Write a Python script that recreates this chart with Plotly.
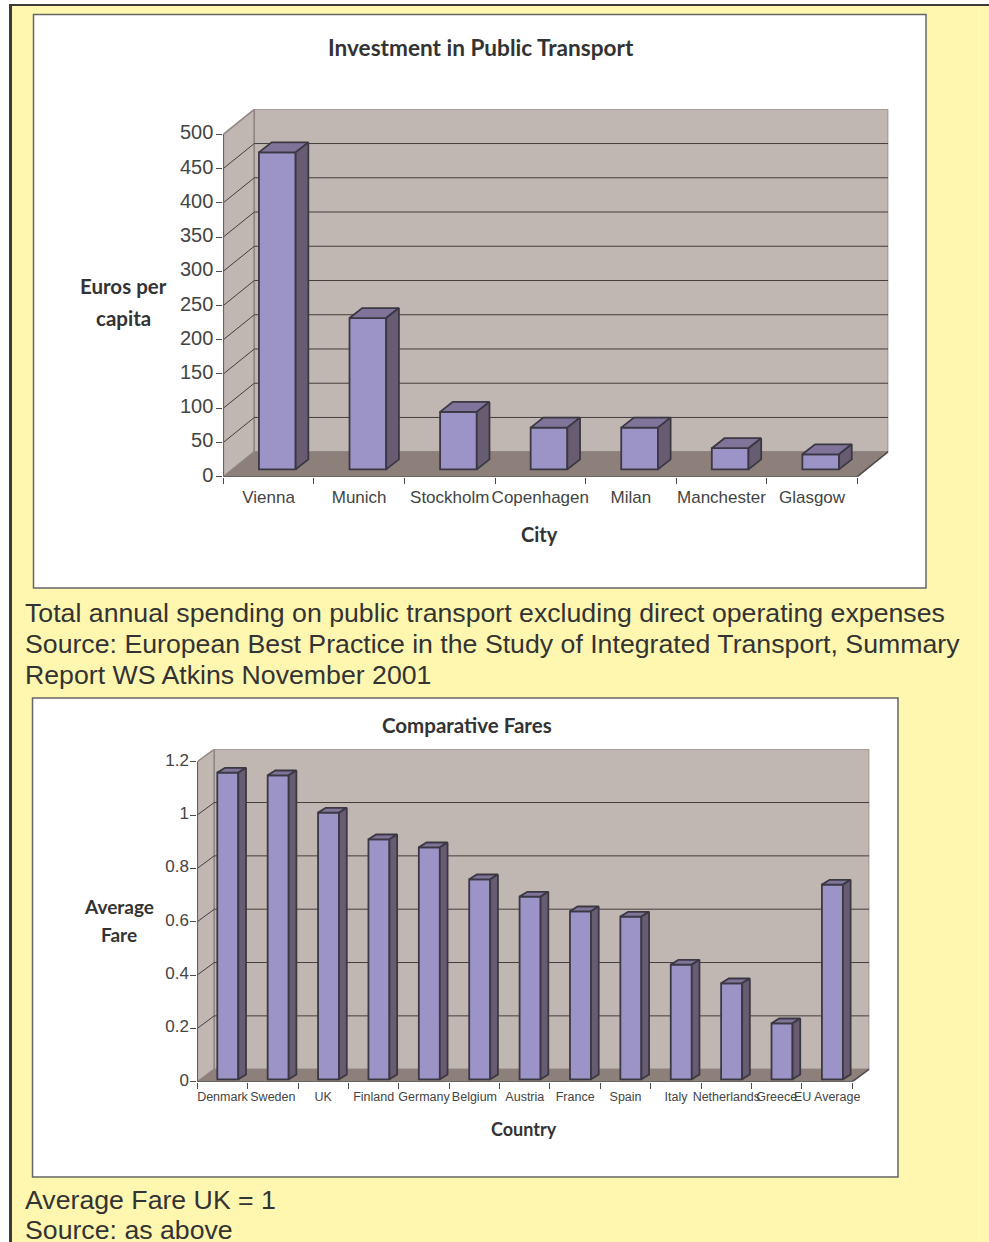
import plotly.graph_objects as go

# Investment per head in seven cities
cities = ["Vienna", "Munich", "Stockholm", "Copenhagen", "Milan", "Manchester", "Glasgow"]
euros_per_capita = [463, 221, 84, 61, 61, 31, 22]
euro_ticks = [0, 50, 100, 150, 200, 250, 300, 350, 400, 450, 500]

# Average fares relative to the UK
countries = ["Denmark", "Sweden", "UK", "Finland", "Germany", "Belgium", "Austria", "France",
             "Spain", "Italy", "Netherlands", "Greece", "EU Average"]
average_fare = [1.15, 1.14, 1.0, 0.90, 0.87, 0.75, 0.685, 0.63, 0.61, 0.43, 0.36, 0.21, 0.73]
fare_ticks = [0, 0.2, 0.4, 0.6, 0.8, 1, 1.2]

W, H = 989, 1242
YELLOW = "#FFF7AF"
WALL = "#C0B6B2"
FLOOR = "#8D7F7A"
EDGE = "#928784"
GRID = "#443E3E"
AXIS = "#4E4A4A"
FRONT = "#9C94C6"
TOP = "#80749A"
SIDE = "#675C72"
OUTLINE = "#3A3842"
TEXT = "#333333"
TICK_TEXT = "#444444"
SANS = "Liberation Sans"
HEAD = "Lato"


def px(x):
    return x / W


def py(y):
    return 1 - y / H


shapes = [
    dict(type="rect", xref="paper", yref="paper", x0=px(11), x1=1, y0=0, y1=py(6),
         fillcolor=YELLOW, line_width=0, layer="below"),
    dict(type="line", xref="paper", yref="paper", x0=px(10.5), x1=px(10.5), y0=0, y1=py(4),
         line=dict(color="#3A3A3A", width=3), layer="below"),
    dict(type="line", xref="paper", yref="paper", x0=px(9), x1=1, y0=py(5), y1=py(5),
         line=dict(color="#3A3A3A", width=2), layer="below"),
    dict(type="line", xref="paper", yref="paper", x0=px(979.5), x1=px(979.5), y0=0, y1=py(6),
         line=dict(color="#FFFAC8", width=1), layer="below"),
]
annotations = []
fig = go.Figure()


def label(text, x, y, size, bold=False, anchor="center", family=None, color=TEXT):
    annotations.append(dict(
        text=f"<b>{text}</b>" if bold else text, xref="paper", yref="paper",
        x=px(x), y=py(y), xanchor=anchor, yanchor="middle", showarrow=False, borderpad=0,
        font=dict(family=family or (HEAD if bold else SANS), size=size, color=color),
    ))


def panel(suffix, names, values, ticks, tick_text, box, front, back, bar, font_sizes,
          standoff, y_standoff, y_shift):
    """Draw one framed pseudo-3D column chart; geometry arguments are pixel measures."""
    xa, ya = f"x{suffix}", f"y{suffix}"
    left, right, bottom, top = front
    dx_px, dy_px = back
    n = len(names)
    unit_x = (right - left) / n
    unit_y = (bottom - top) / ticks[-1]
    dx, dy = dx_px / unit_x, dy_px / unit_y
    x_end, y_end = n + dx, ticks[-1] + dy

    shapes.append(dict(type="rect", xref="paper", yref="paper",
                       x0=px(box[0]), x1=px(box[1]), y0=py(box[3]), y1=py(box[2]),
                       fillcolor="white", line=dict(color="#666666", width=1.5), layer="below"))

    def poly(points, fill, line=None, width=0):
        path = "M " + " L ".join(f"{a},{b}" for a, b in points) + " Z"
        shapes.append(dict(type="path", xref=xa, yref=ya, path=path, fillcolor=fill,
                           line=dict(color=line or fill, width=width), layer="below"))

    # left wall, back wall and floor
    poly([(0, 0), (dx, dy), (dx, y_end), (0, ticks[-1])], WALL, EDGE, 1.5)
    poly([(dx, dy), (x_end, dy), (x_end, y_end), (dx, y_end)], WALL, EDGE, 1.5)
    poly([(0, 0), (n, 0), (x_end, dy), (dx, dy)], FLOOR)

    # gridlines run along the left wall, then across the back wall
    grid = " ".join(f"M 0,{t} L {dx},{t + dy} L {x_end},{t + dy}" for t in ticks[1:-1])
    shapes.append(dict(type="path", xref=xa, yref=ya, path=grid,
                       line=dict(color=GRID, width=1), layer="below"))

    # axis lines along the front of the box
    for p0, p1 in [((0, 0), (0, ticks[-1])), ((0, 0), (n, 0)), ((n, 0), (x_end, dy))]:
        shapes.append(dict(type="line", xref=xa, yref=ya, x0=p0[0], y0=p0[1], x1=p1[0], y1=p1[1],
                           line=dict(color=AXIS, width=1.5), layer="below"))

    shift_x, shift_y, width_frac, depth_x, depth_y = bar
    ox, oy = shift_x / unit_x, shift_y / unit_y
    bx, by = depth_x / unit_x, depth_y / unit_y
    half = width_frac / 2

    fig.add_trace(go.Bar(
        x=[i + 0.5 + ox for i in range(n)], y=values, base=oy, width=width_frac,
        xaxis=xa, yaxis=ya, marker=dict(color=FRONT, line=dict(color=OUTLINE, width=1.8)),
        hoverinfo="skip", showlegend=False,
    ))

    top_x, top_y, side_x, side_y = [], [], [], []
    for i, v in enumerate(values):
        x0, x1 = i + 0.5 + ox - half, i + 0.5 + ox + half
        t = oy + v
        top_x += [x0, x1, x1 + bx, x0 + bx, x0, None]
        top_y += [t, t, t + by, t + by, t, None]
        side_x += [x1, x1 + bx, x1 + bx, x1, x1, None]
        side_y += [oy, oy + by, t + by, t, oy, None]
    for fx, fy, color in [(top_x, top_y, TOP), (side_x, side_y, SIDE)]:
        fig.add_trace(go.Scatter(
            x=fx, y=fy, xaxis=xa, yaxis=ya, mode="lines", fill="toself", fillcolor=color,
            line=dict(color=OUTLINE, width=1.8), hoverinfo="skip", showlegend=False,
        ))

    plot_left, plot_right = left, right + dx_px
    plot_bottom, plot_top = bottom, top - dy_px
    key = suffix
    fig.layout[f"xaxis{key}"] = dict(
        domain=[px(plot_left), px(plot_right)], range=[0, x_end], anchor=ya,
        tickmode="array", tickvals=[i + 0.5 for i in range(n)], ticktext=names, tickangle=0,
        ticks="", showline=False, showgrid=False, zeroline=False, fixedrange=True,
        ticklabelstandoff=standoff,
        tickfont=dict(family=SANS, size=font_sizes[0], color=TICK_TEXT),
        minor=dict(tickmode="array", tickvals=list(range(n + 1)), ticks="outside", ticklen=6,
                   tickcolor=AXIS, tickwidth=1, showgrid=False),
    )
    fig.layout[f"yaxis{key}"] = dict(
        domain=[py(plot_bottom), py(plot_top)], range=[0, y_end], anchor=xa,
        tickmode="array", tickvals=ticks, ticktext=tick_text,
        ticks="outside", ticklen=6, tickcolor=AXIS, tickwidth=1,
        ticklabelstandoff=y_standoff, ticklabelshift=y_shift,
        showline=False, showgrid=False, zeroline=False, fixedrange=True,
        tickfont=dict(family=SANS, size=font_sizes[1], color=TICK_TEXT),
    )


panel("", cities, euros_per_capita, euro_ticks, [str(t) for t in euro_ticks],
      box=(33.5, 926, 14.5, 588), front=(223.3, 857.3, 476.7, 134.3), back=(31, 25),
      bar=(8.7, 7.3, 0.405, 12.7, 10), font_sizes=(17, 20), standoff=8, y_standoff=-1, y_shift=-2)
panel("2", countries, average_fare, fare_ticks, [str(t) for t in fare_ticks],
      box=(32.5, 898, 698, 1177), front=(197.3, 852.3, 1081.7, 761.7), back=(17, 12.5),
      bar=(5.3, 2.4, 0.417, 7.7, 4.8), font_sizes=(12.5, 17), standoff=6, y_standoff=-2, y_shift=-2)

label("Investment in Public Transport", 481, 48, 22.6, bold=True)
label("Euros per", 124, 286, 20.5, bold=True)
label("capita", 124, 318, 20.5, bold=True)
label("City", 539, 534, 20, bold=True)
label("Comparative Fares", 467, 725, 20.5, bold=True)
label("Average", 119, 906, 19, bold=True)
label("Fare", 119, 934, 19, bold=True)
label("Country", 524, 1129, 18, bold=True)

body = [
    ("Total annual spending on public transport excluding direct operating expenses", 613),
    ("Source: European Best Practice in the Study of Integrated Transport, Summary", 644),
    ("Report WS Atkins November 2001", 675),
    ("Average Fare UK = 1", 1200),
    ("Source: as above", 1230),
]
for line, y in body:
    label(line, 24, y, 26.7, anchor="left")

fig.update_layout(
    width=W, height=H, autosize=False,
    margin=dict(l=0, r=0, t=0, b=0, autoexpand=False),
    paper_bgcolor="white", plot_bgcolor="rgba(0,0,0,0)", barmode="overlay",
    shapes=shapes, annotations=annotations, showlegend=False,
)
fig.write_html("out.html", config={"displayModeBar": False})
